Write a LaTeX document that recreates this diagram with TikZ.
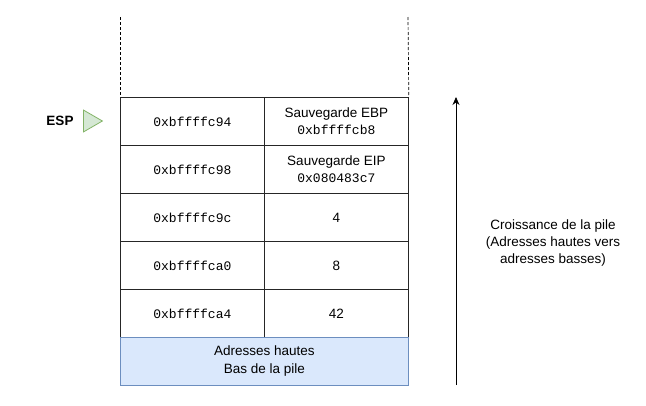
\documentclass[tikz,border=0pt]{standalone}
\usepackage{fontspec}
\setmainfont{Liberation Sans}
\setmonofont{Liberation Mono}
\usetikzlibrary{shapes.geometric,arrows.meta}
\definecolor{bluefill}{HTML}{DAE8FC}
\definecolor{blueline}{HTML}{6C8EBF}
\definecolor{greenfill}{HTML}{D5E8D4}
\definecolor{greenline}{HTML}{82B366}
\newcommand{\monotxt}{\ttfamily\fontsize{13}{17}\selectfont}
\begin{document}
\begin{tikzpicture}[x=1pt,y=-1pt,
  cell/.style={draw=black!85,line width=0.8pt,minimum width=144pt,minimum height=48pt,inner sep=0pt,anchor=north west,align=center,font=\fontsize{13.5}{17}\selectfont},
  addr/.style={cell,font=\monotxt},
  dashline/.style={dash pattern=on 3pt off 2pt,line width=0.7pt,black}]
\useasboundingbox (0,0) rectangle (646,405);
\node[addr] (a1) at (120,97) {0xbffffc94};
\node[cell] (v1) at (264,97) {Sauvegarde EBP\\{\monotxt 0xbffffcb8}};
\node[addr] (a2) at (120,145) {0xbffffc98};
\node[cell] (v2) at (264,145) {Sauvegarde EIP\\{\monotxt 0x080483c7}};
\node[addr] (a3) at (120,193) {0xbffffc9c};
\node[cell] (v3) at (264,193) {4};
\node[addr] (a4) at (120,241) {0xbffffca0};
\node[cell] (v4) at (264,241) {8};
\node[addr] (a5) at (120,289) {0xbffffca4};
\node[cell] (v5) at (264,289) {42};
\node[cell,draw=blueline,fill=bluefill,minimum width=288pt,font=\fontsize{13.5}{18}\selectfont] (base) at (120,337) {Adresses hautes\\Bas de la pile};
\coordinate (dl) at (120,17);
\coordinate (dr) at (408,17);
\draw[dashline] (dl) -- (a1.north west);
\draw[dashline] (dr) -- (v1.north east);
\node[font=\bfseries\fontsize{13.5}{17}\selectfont] (esp) at (60,121) {ESP};
\node[isosceles triangle,isosceles triangle apex angle=60,draw=greenline,fill=greenfill,line width=0.8pt,minimum height=19pt,inner sep=0pt,anchor=west] (tri) at (83,121) {};
\coordinate (abot) at (456,385);
\coordinate (atop) at (456,97);
\draw[-{Stealth[length=8pt,width=7pt]},line width=0.8pt] (abot) -- (atop);
\node[align=center,font=\fontsize{13.5}{17}\selectfont] (lbl) at (553,243) {Croissance de la pile\\(Adresses hautes vers\\adresses basses)};
\end{tikzpicture}
\end{document}
